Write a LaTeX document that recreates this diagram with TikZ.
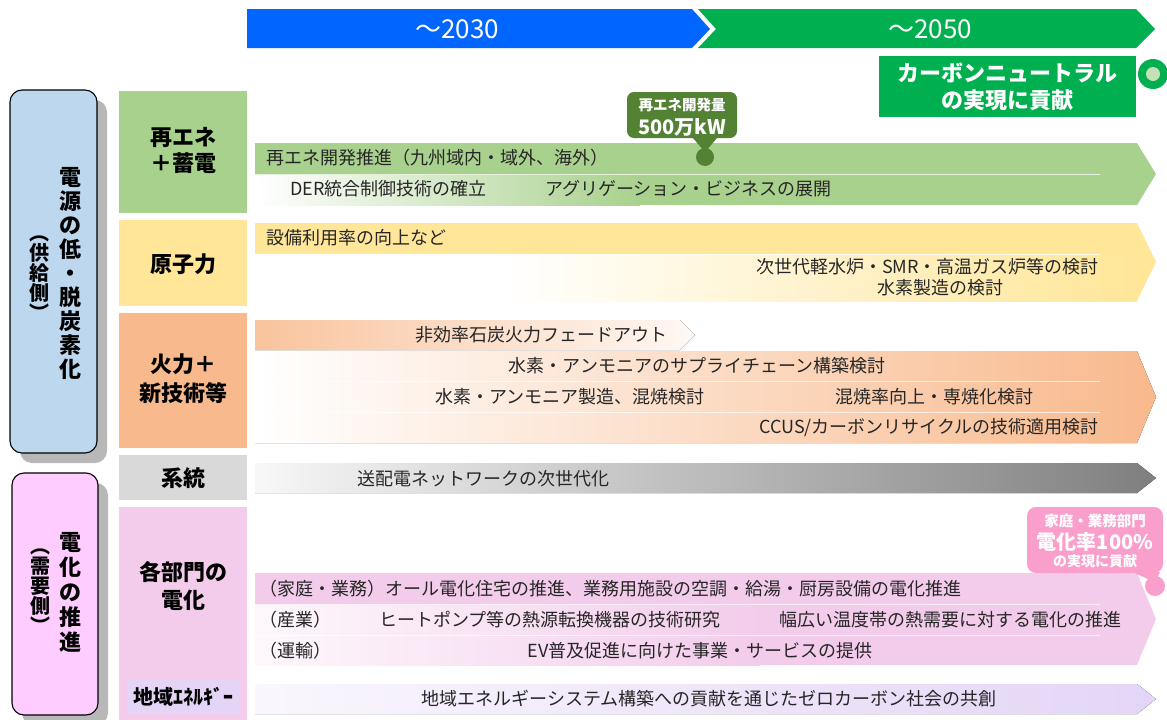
\documentclass[tikz,border=0pt]{standalone}
\usepackage{fontspec}
\setmainfont{Noto Sans CJK JP}
\usetikzlibrary{shadows}
\definecolor{cblue}{HTML}{0066FF}
\definecolor{cgreen}{HTML}{00B050}
\definecolor{cgreenlt}{HTML}{C5E0B4}
\definecolor{renew}{HTML}{A9D18E}
\definecolor{nuc}{HTML}{FFE699}
\definecolor{therm}{HTML}{F8B98C}
\definecolor{gridc}{HTML}{D9D9D9}
\definecolor{gridd}{HTML}{7F7F7F}
\definecolor{elec}{HTML}{F3CCEB}
\definecolor{reg}{HTML}{E4D5F6}
\definecolor{supply}{HTML}{BDD7EE}
\definecolor{demand}{HTML}{FFCCFF}
\definecolor{dkgreen}{HTML}{548235}
\definecolor{pinkc}{HTML}{FA9FCB}
\definecolor{txt}{HTML}{262626}
\begin{document}
\begin{tikzpicture}[x=1pt,y=-1pt,
  banner/.style={text=white,font=\fontsize{26}{28}\selectfont,inner sep=0},
  sidebox/.style={draw=black,line width=1.1pt,rounded corners=12pt,inner sep=0,
     drop shadow={shadow xshift=10pt,shadow yshift=-10pt,fill=black!28,opacity=1}},
  vmain/.style={font=\bfseries\fontsize{22}{24}\selectfont,align=center,inner sep=0},
  vsub/.style={font=\bfseries\fontsize{20}{20}\selectfont,align=center,inner sep=0},
  catbox/.style={inner sep=0,minimum width=128pt},
  cat/.style={font=\bfseries\fontsize{22}{28}\selectfont,align=center,inner sep=0},
  body/.style={font=\fontsize{18}{20}\selectfont,text=txt,inner sep=0},
  callsmall/.style={font=\bfseries\fontsize{14.5}{16}\selectfont,text=white,inner sep=0},
  callbig/.style={font=\bfseries\fontsize{20}{22}\selectfont,text=white,inner sep=0},
  sep/.style={white,line width=0.8pt,opacity=0.7}
]
\useasboundingbox (0,0) rectangle (1167,720);

% ---------- banner ----------
\fill[cblue] (247,9) -- (692,9) -- (710,29) -- (692,48) -- (247,48) -- cycle;
\fill[cgreen] (698,9) -- (1136,9) -- (1155,29) -- (1136,48) -- (698,48) -- (716,29) -- cycle;
\node[banner] (y2030) at (457,29) {～2030};
\node[banner] (y2050) at (930,29) {～2050};

\node[fill=cgreen,minimum width=257pt,minimum height=61pt,inner sep=0] (cnbox) at (1007.5,86.5) {};
\node[font=\bfseries\fontsize{22}{27}\selectfont,text=white,align=center,inner sep=0] (cntext) at (1007.5,86.5) {カーボンニュートラル\\の実現に貢献};
\node[circle,fill=cgreen,minimum size=30pt,inner sep=0] (cnring) at (1153,74) {};
\node[circle,fill=cgreenlt,minimum size=14pt,inner sep=0] (cndot) at (1153,74) {};

% ---------- left side boxes ----------
\node[sidebox,fill=supply,minimum width=87pt,minimum height=363pt] (supplybox) at (53.5,271.5) {};
\node[vmain] (supplyt1) at (70,273) {電\\源\\の\\低\\・\\脱\\炭\\素\\化};
\node[vsub] (supplyt2) at (39,278) {︵\\供\\給\\側\\︶};

\node[sidebox,fill=demand,minimum width=86pt,minimum height=242pt] (demandbox) at (55,594) {};
\node[vmain,font=\bfseries\fontsize{22}{25}\selectfont] (demandt1) at (70,592) {電\\化\\の\\推\\進};
\node[vsub] (demandt2) at (40,591) {︵\\需\\要\\側\\︶};

% ---------- category boxes ----------
\node[catbox,fill=renew,minimum height=122pt] (catrenew) at (183,152) {};
\node[catbox,fill=nuc,minimum height=86pt] (catnuc) at (183,263) {};
\node[catbox,fill=therm,minimum height=135pt] (cattherm) at (183,380.5) {};
\node[catbox,fill=gridc,minimum height=45pt] (catgrid) at (183,477.5) {};
\node[catbox,fill=elec,minimum height=213pt] (catelec) at (183,613.5) {};
\node[inner sep=0,fill=reg,minimum width=113pt,minimum height=35pt] (catreg) at (183.5,696.5) {};

\node[cat,font=\bfseries\fontsize{22}{26}\selectfont] (trenew) at (183,150) {再エネ\\＋蓄電};
\node[cat] (tnuc) at (183,264) {原子力};
\node[cat,font=\bfseries\fontsize{22}{29}\selectfont] (ttherm) at (183,379) {火力＋\\新技術等};
\node[cat] (tgrid) at (183,478) {系統};
\node[cat] (telec) at (183,586) {各部門の\\電化};
\node[cat,font=\bfseries\fontsize{20}{22}\selectfont] (treg) at (183.5,697) {地域ｴﾈﾙｷﾞｰ};

% ---------- renewables ----------
\fill[renew] (255,143) -- (1137,143) -- (1156,174) -- (1137,205) -- (255,205) -- cycle;
\fill[left color=white,right color=renew] (255,175) rectangle (640,205);
\draw[sep] (255,174) -- (1100,174);
\node[body,anchor=west] (r1) at (266,158) {再エネ開発推進（九州域内・域外、海外）};
\node[body,anchor=west] (r2) at (290,189) {DER統合制御技術の確立};
\node[body,anchor=west] (r3) at (545,189) {アグリゲーション・ビジネスの展開};

\node[fill=dkgreen,rounded corners=7pt,minimum width=110pt,minimum height=46pt,inner sep=0] (rcall) at (682,115) {};
\fill[dkgreen] (692,137) -- (718,137) -- (705,152) -- cycle;
\node[circle,fill=dkgreen,minimum size=18pt,inner sep=0] (rdot) at (705,157) {};
\node[callsmall] (rcall1) at (682,105) {再エネ開発量};
\node[callbig] (rcall2) at (682,127) {500万kW};

% ---------- nuclear ----------
\fill[nuc] (255,223) -- (1137,223) -- (1156,262) -- (1137,301) -- (255,301) -- cycle;
\fill[white] (255,254) rectangle (500,301);
\fill[left color=white,right color=nuc] (500,254) rectangle (1137,301);
\draw[sep] (255,254) -- (1100,254);
\node[body,anchor=west] (n1) at (266,238) {設備利用率の向上など};
\node[body,anchor=east] (n2) at (1099,267) {次世代軽水炉・SMR・高温ガス炉等の検討};
\node[body] (n3) at (940,288) {水素製造の検討};

% ---------- thermal ----------
\fill[left color=therm!85!white,right color=therm!10!white] (255,320) -- (680,320) -- (695,335) -- (680,350) -- (255,350) -- cycle;
\fill[left color=white,right color=therm] (255,351) -- (1137,351) -- (1156,397) -- (1137,443) -- (255,443) -- cycle;
\draw[sep] (255,381.5) -- (1100,381.5);
\draw[sep] (255,412.5) -- (1100,412.5);
\node[body] (t1) at (541,335) {非効率石炭火力フェードアウト};
\node[body] (t2) at (697,366) {水素・アンモニアのサプライチェーン構築検討};
\node[body] (t3) at (570,397) {水素・アンモニア製造、混焼検討};
\node[body] (t4) at (934,397) {混焼率向上・専焼化検討};
\node[body] (t5) at (929,428) {CCUS/カーボンリサイクルの技術適用検討};

% ---------- grid ----------
\fill[left color=gray!6,right color=gridd] (255,463) -- (1137,463) -- (1156,478) -- (1137,493) -- (255,493) -- cycle;
\node[body] (g1) at (483,479) {送配電ネットワークの次世代化};

% ---------- electrification ----------
\fill[elec] (255,573) -- (1137,573) -- (1156,619) -- (1137,665) -- (255,665) -- cycle;
\fill[left color=elec!15!white,right color=elec] (255,605) rectangle (760,665);
\draw[sep] (255,604) -- (1100,604);
\draw[sep] (255,635) -- (1100,635);
\node[body,anchor=west] (e1) at (259,589) {（家庭・業務）オール電化住宅の推進、業務用施設の空調・給湯・厨房設備の電化推進};
\node[body,anchor=west] (e2) at (259,620) {（産業）};
\node[body] (e3) at (550,620) {ヒートポンプ等の熱源転換機器の技術研究};
\node[body] (e4) at (950,620) {幅広い温度帯の熱需要に対する電化の推進};
\node[body,anchor=west] (e5) at (259,651) {（運輸）};
\node[body] (e6) at (700,651) {EV普及促進に向けた事業・サービスの提供};

\node[fill=pinkc,rounded corners=9pt,minimum width=136pt,minimum height=66pt,inner sep=0] (ecall) at (1095,540) {};
\fill[pinkc] (1132,572) -- (1160,572) -- (1155,582) -- cycle;
\node[circle,fill=pinkc,minimum size=20pt,inner sep=0] (edot) at (1155,586) {};
\node[callsmall] (ecall1) at (1095,521) {家庭・業務部門};
\node[callbig] (ecall2) at (1095,542) {電化率100\%};
\node[callsmall,font=\bfseries\fontsize{14}{16}\selectfont] (ecall3) at (1095,561) {の実現に貢献};

% ---------- regional ----------
\fill[left color=reg!20!white,right color=reg] (255,684) -- (1137,684) -- (1156,699) -- (1137,714) -- (255,714) -- cycle;
\node[body] (reg1) at (709,699) {地域エネルギーシステム構築への貢献を通じたゼロカーボン社会の共創};
\end{tikzpicture}
\end{document}
